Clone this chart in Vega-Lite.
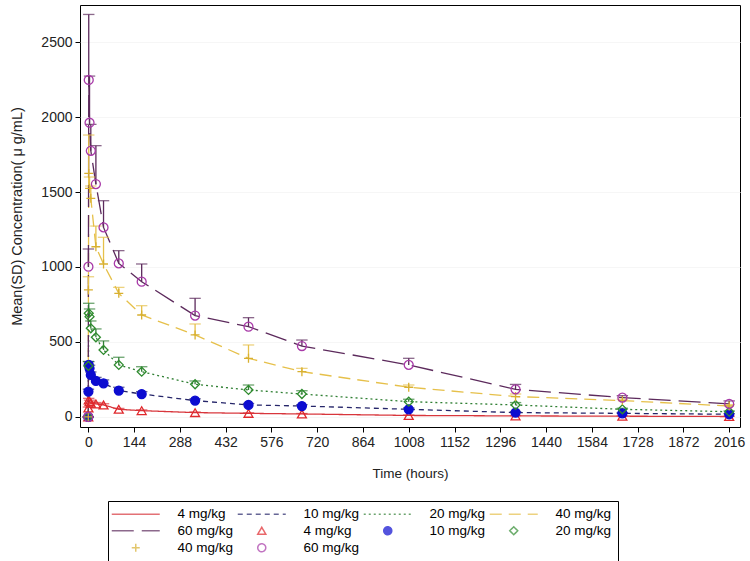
{
  "$schema": "https://vega.github.io/schema/vega-lite/v6.json",
  "width": 660,
  "height": 422,
  "autosize": {"type": "none"},
  "padding": {"left": 80, "top": 5, "right": 10, "bottom": 134},
  "background": "white",
  "config": {
    "view": {"stroke": "black", "strokeWidth": 1},
    "font": "Liberation Sans",
    "axis": {
      "domain": false,
      "tickColor": "black",
      "tickSize": 5,
      "labelFont": "Liberation Sans",
      "labelFontSize": 14,
      "labelColor": "#222",
      "titleFont": "Liberation Sans",
      "titleFontWeight": "normal",
      "titleColor": "#222"
    },
    "legend": {
      "orient": "none",
      "legendX": 28,
      "legendY": 496,
      "columns": 4,
      "direction": "horizontal",
      "gridAlign": "each",
      "strokeColor": "black",
      "fillColor": "white",
      "padding": 6,
      "titleOrient": "left",
      "titlePadding": 15,
      "titleFontSize": 13.5,
      "labelFont": "Liberation Sans",
      "labelFontSize": 13.5,
      "labelColor": "#000",
      "labelLimit": 400,
      "symbolSize": 64,
      "symbolStrokeWidth": 1.5,
      "labelOffset": 35,
      "columnPadding": 0,
      "rowPadding": 2
    }
  },
  "data": {
    "values": [
      {"dose":"4 mg/kg","line":"L4 mg/kg","marker":"P4 mg/kg","time":0,"mean":0,"upper":0},
      {"dose":"4 mg/kg","line":"L4 mg/kg","marker":"P4 mg/kg","time":0.5,"mean":60,"upper":66},
      {"dose":"4 mg/kg","line":"L4 mg/kg","marker":"P4 mg/kg","time":1.5,"mean":113,"upper":124},
      {"dose":"4 mg/kg","line":"L4 mg/kg","marker":"P4 mg/kg","time":4,"mean":102,"upper":112},
      {"dose":"4 mg/kg","line":"L4 mg/kg","marker":"P4 mg/kg","time":8,"mean":92,"upper":100},
      {"dose":"4 mg/kg","line":"L4 mg/kg","marker":"P4 mg/kg","time":24,"mean":87,"upper":96},
      {"dose":"4 mg/kg","line":"L4 mg/kg","marker":"P4 mg/kg","time":48,"mean":80,"upper":88},
      {"dose":"4 mg/kg","line":"L4 mg/kg","marker":"P4 mg/kg","time":96,"mean":51,"upper":57},
      {"dose":"4 mg/kg","line":"L4 mg/kg","marker":"P4 mg/kg","time":168,"mean":42,"upper":47},
      {"dose":"4 mg/kg","line":"L4 mg/kg","marker":"P4 mg/kg","time":336,"mean":29,"upper":33},
      {"dose":"4 mg/kg","line":"L4 mg/kg","marker":"P4 mg/kg","time":504,"mean":24,"upper":28},
      {"dose":"4 mg/kg","line":"L4 mg/kg","marker":"P4 mg/kg","time":672,"mean":20,"upper":23},
      {"dose":"4 mg/kg","line":"L4 mg/kg","marker":"P4 mg/kg","time":1008,"mean":10,"upper":13},
      {"dose":"4 mg/kg","line":"L4 mg/kg","marker":"P4 mg/kg","time":1344,"mean":7,"upper":9},
      {"dose":"4 mg/kg","line":"L4 mg/kg","marker":"P4 mg/kg","time":1680,"mean":5,"upper":7},
      {"dose":"4 mg/kg","line":"L4 mg/kg","marker":"P4 mg/kg","time":2016,"mean":3,"upper":5},

      {"dose":"10 mg/kg","line":"L10 mg/kg","marker":"P10 mg/kg","time":0,"mean":0,"upper":0},
      {"dose":"10 mg/kg","line":"L10 mg/kg","marker":"P10 mg/kg","time":0.5,"mean":169,"upper":185},
      {"dose":"10 mg/kg","line":"L10 mg/kg","marker":"P10 mg/kg","time":1.5,"mean":347,"upper":369},
      {"dose":"10 mg/kg","line":"L10 mg/kg","marker":"P10 mg/kg","time":4,"mean":324,"upper":345},
      {"dose":"10 mg/kg","line":"L10 mg/kg","marker":"P10 mg/kg","time":8,"mean":280,"upper":300},
      {"dose":"10 mg/kg","line":"L10 mg/kg","marker":"P10 mg/kg","time":24,"mean":240,"upper":264},
      {"dose":"10 mg/kg","line":"L10 mg/kg","marker":"P10 mg/kg","time":48,"mean":224,"upper":247},
      {"dose":"10 mg/kg","line":"L10 mg/kg","marker":"P10 mg/kg","time":96,"mean":176,"upper":198},
      {"dose":"10 mg/kg","line":"L10 mg/kg","marker":"P10 mg/kg","time":168,"mean":153,"upper":169},
      {"dose":"10 mg/kg","line":"L10 mg/kg","marker":"P10 mg/kg","time":336,"mean":109,"upper":121},
      {"dose":"10 mg/kg","line":"L10 mg/kg","marker":"P10 mg/kg","time":504,"mean":80,"upper":90},
      {"dose":"10 mg/kg","line":"L10 mg/kg","marker":"P10 mg/kg","time":672,"mean":73,"upper":82},
      {"dose":"10 mg/kg","line":"L10 mg/kg","marker":"P10 mg/kg","time":1008,"mean":51,"upper":60},
      {"dose":"10 mg/kg","line":"L10 mg/kg","marker":"P10 mg/kg","time":1344,"mean":29,"upper":36},
      {"dose":"10 mg/kg","line":"L10 mg/kg","marker":"P10 mg/kg","time":1680,"mean":24,"upper":29},
      {"dose":"10 mg/kg","line":"L10 mg/kg","marker":"P10 mg/kg","time":2016,"mean":18,"upper":22},

      {"dose":"20 mg/kg","line":"L20 mg/kg","marker":"P20 mg/kg","time":0,"mean":0,"upper":0},
      {"dose":"20 mg/kg","line":"L20 mg/kg","marker":"P20 mg/kg","time":0.5,"mean":340,"upper":370},
      {"dose":"20 mg/kg","line":"L20 mg/kg","marker":"P20 mg/kg","time":1.5,"mean":691,"upper":758},
      {"dose":"20 mg/kg","line":"L20 mg/kg","marker":"P20 mg/kg","time":4,"mean":669,"upper":720},
      {"dose":"20 mg/kg","line":"L20 mg/kg","marker":"P20 mg/kg","time":8,"mean":591,"upper":640},
      {"dose":"20 mg/kg","line":"L20 mg/kg","marker":"P20 mg/kg","time":24,"mean":531,"upper":587},
      {"dose":"20 mg/kg","line":"L20 mg/kg","marker":"P20 mg/kg","time":48,"mean":447,"upper":507},
      {"dose":"20 mg/kg","line":"L20 mg/kg","marker":"P20 mg/kg","time":96,"mean":347,"upper":398},
      {"dose":"20 mg/kg","line":"L20 mg/kg","marker":"P20 mg/kg","time":168,"mean":302,"upper":335},
      {"dose":"20 mg/kg","line":"L20 mg/kg","marker":"P20 mg/kg","time":336,"mean":218,"upper":240},
      {"dose":"20 mg/kg","line":"L20 mg/kg","marker":"P20 mg/kg","time":504,"mean":180,"upper":213},
      {"dose":"20 mg/kg","line":"L20 mg/kg","marker":"P20 mg/kg","time":672,"mean":153,"upper":175},
      {"dose":"20 mg/kg","line":"L20 mg/kg","marker":"P20 mg/kg","time":1008,"mean":102,"upper":118},
      {"dose":"20 mg/kg","line":"L20 mg/kg","marker":"P20 mg/kg","time":1344,"mean":80,"upper":96},
      {"dose":"20 mg/kg","line":"L20 mg/kg","marker":"P20 mg/kg","time":1680,"mean":51,"upper":58},
      {"dose":"20 mg/kg","line":"L20 mg/kg","marker":"P20 mg/kg","time":2016,"mean":35,"upper":40},

      {"dose":"40 mg/kg","line":"L40 mg/kg","marker":"P40 mg/kg","time":0,"mean":0,"upper":0},
      {"dose":"40 mg/kg","line":"L40 mg/kg","marker":"P40 mg/kg","time":0.5,"mean":847,"upper":935},
      {"dose":"40 mg/kg","line":"L40 mg/kg","marker":"P40 mg/kg","time":1.5,"mean":1624,"upper":1880},
      {"dose":"40 mg/kg","line":"L40 mg/kg","marker":"P40 mg/kg","time":4,"mean":1524,"upper":1600},
      {"dose":"40 mg/kg","line":"L40 mg/kg","marker":"P40 mg/kg","time":8,"mean":1458,"upper":1540},
      {"dose":"40 mg/kg","line":"L40 mg/kg","marker":"P40 mg/kg","time":24,"mean":1135,"upper":1273},
      {"dose":"40 mg/kg","line":"L40 mg/kg","marker":"P40 mg/kg","time":48,"mean":1020,"upper":1198},
      {"dose":"40 mg/kg","line":"L40 mg/kg","marker":"P40 mg/kg","time":96,"mean":824,"upper":864},
      {"dose":"40 mg/kg","line":"L40 mg/kg","marker":"P40 mg/kg","time":168,"mean":680,"upper":742},
      {"dose":"40 mg/kg","line":"L40 mg/kg","marker":"P40 mg/kg","time":336,"mean":547,"upper":620},
      {"dose":"40 mg/kg","line":"L40 mg/kg","marker":"P40 mg/kg","time":504,"mean":391,"upper":480},
      {"dose":"40 mg/kg","line":"L40 mg/kg","marker":"P40 mg/kg","time":672,"mean":302,"upper":324},
      {"dose":"40 mg/kg","line":"L40 mg/kg","marker":"P40 mg/kg","time":1008,"mean":198,"upper":213},
      {"dose":"40 mg/kg","line":"L40 mg/kg","marker":"P40 mg/kg","time":1344,"mean":136,"upper":153},
      {"dose":"40 mg/kg","line":"L40 mg/kg","marker":"P40 mg/kg","time":1680,"mean":109,"upper":118},
      {"dose":"40 mg/kg","line":"L40 mg/kg","marker":"P40 mg/kg","time":2016,"mean":73,"upper":82},

      {"dose":"60 mg/kg","line":"L60 mg/kg","marker":"P60 mg/kg","time":0,"mean":0,"upper":0},
      {"dose":"60 mg/kg","line":"L60 mg/kg","marker":"P60 mg/kg","time":0.5,"mean":1002,"upper":1120},
      {"dose":"60 mg/kg","line":"L60 mg/kg","marker":"P60 mg/kg","time":1.5,"mean":2247,"upper":2684},
      {"dose":"60 mg/kg","line":"L60 mg/kg","marker":"P60 mg/kg","time":4,"mean":1962,"upper":2273},
      {"dose":"60 mg/kg","line":"L60 mg/kg","marker":"P60 mg/kg","time":8,"mean":1775,"upper":1951},
      {"dose":"60 mg/kg","line":"L60 mg/kg","marker":"P60 mg/kg","time":24,"mean":1553,"upper":1809},
      {"dose":"60 mg/kg","line":"L60 mg/kg","marker":"P60 mg/kg","time":48,"mean":1264,"upper":1442},
      {"dose":"60 mg/kg","line":"L60 mg/kg","marker":"P60 mg/kg","time":96,"mean":1024,"upper":1109},
      {"dose":"60 mg/kg","line":"L60 mg/kg","marker":"P60 mg/kg","time":168,"mean":902,"upper":1020},
      {"dose":"60 mg/kg","line":"L60 mg/kg","marker":"P60 mg/kg","time":336,"mean":676,"upper":791},
      {"dose":"60 mg/kg","line":"L60 mg/kg","marker":"P60 mg/kg","time":504,"mean":602,"upper":662},
      {"dose":"60 mg/kg","line":"L60 mg/kg","marker":"P60 mg/kg","time":672,"mean":473,"upper":513},
      {"dose":"60 mg/kg","line":"L60 mg/kg","marker":"P60 mg/kg","time":1008,"mean":347,"upper":391},
      {"dose":"60 mg/kg","line":"L60 mg/kg","marker":"P60 mg/kg","time":1344,"mean":184,"upper":217},
      {"dose":"60 mg/kg","line":"L60 mg/kg","marker":"P60 mg/kg","time":1680,"mean":129,"upper":142},
      {"dose":"60 mg/kg","line":"L60 mg/kg","marker":"P60 mg/kg","time":2016,"mean":87,"upper":107}
    ]
  },
  "layer": [
    {
      "mark": {"type": "line", "strokeWidth": 1.3},
      "encoding": {
        "x": {"field": "time", "type": "quantitative",
          "scale": {"domain": [-26, 2050], "nice": false, "zero": false},
          "axis": {"values": [0,144,288,432,576,720,864,1008,1152,1296,1440,1584,1728,1872,2016], "format": "d", "grid": false, "title": "Time (hours)", "titleFontSize": 13.5, "labelPadding": 3, "titlePadding": 17}},
        "y": {"field": "mean", "type": "quantitative",
          "scale": {"domain": [-67, 2747], "nice": false, "zero": false},
          "axis": {"values": [0,500,1000,1500,2000,2500], "format": "d", "grid": true, "gridColor": "#f6f6f6", "title": "Mean(SD) Concentration( μ g/mL)", "titleFontSize": 14.5, "labelPadding": 3, "titlePadding": 16}},
        "stroke": {"field": "line", "type": "nominal",
          "scale": {
            "domain": ["L4 mg/kg","L10 mg/kg","L20 mg/kg","L40 mg/kg","L60 mg/kg","P4 mg/kg","P10 mg/kg","P20 mg/kg","P40 mg/kg","P60 mg/kg"],
            "range": ["#d8363c","#26266a","#2f7f33","#e6c04a","#5c2a5c","#e0282c","#0c0cd0","#2e8b2e","#d8b030","#a83aa8"]
          },
          "legend": {"title": " ", "labelExpr": "(datum.value == 'L40 mg/kg' || datum.value == 'P20 mg/kg') ? slice(datum.label, 1) + '\u2003\u2003\u2003\u2003\u2003\u2003\u2003' : slice(datum.label, 1)"}},
        "strokeDash": {"field": "line", "type": "nominal",
          "scale": {
            "domain": ["L4 mg/kg","L10 mg/kg","L20 mg/kg","L40 mg/kg","L60 mg/kg","P4 mg/kg","P10 mg/kg","P20 mg/kg","P40 mg/kg","P60 mg/kg"],
            "range": [[1,0],[5,4],[2,3],[12,7],[22,8],[1,0],[1,0],[1,0],[1,0],[1,0]]
          },
          "legend": {"title": " ", "labelExpr": "(datum.value == 'L40 mg/kg' || datum.value == 'P20 mg/kg') ? slice(datum.label, 1) + '\u2003\u2003\u2003\u2003\u2003\u2003\u2003' : slice(datum.label, 1)"}}
      }
    },
    {
      "mark": {"type": "rule", "strokeWidth": 1.3},
      "encoding": {
        "x": {"field": "time", "type": "quantitative"},
        "y": {"field": "mean", "type": "quantitative"},
        "y2": {"field": "upper"},
        "stroke": {"field": "line", "type": "nominal"}
      }
    },
    {
      "mark": {"type": "point", "shape": "stroke", "size": 130, "strokeWidth": 1.3, "filled": false},
      "encoding": {
        "x": {"field": "time", "type": "quantitative"},
        "y": {"field": "upper", "type": "quantitative"},
        "stroke": {"field": "line", "type": "nominal"}
      }
    },
    {
      "mark": {"type": "point", "size": 80, "strokeWidth": 1.3, "opacity": 1, "fillOpacity": 1, "strokeOpacity": 1},
      "encoding": {
        "x": {"field": "time", "type": "quantitative"},
        "y": {"field": "mean", "type": "quantitative"},
        "stroke": {"field": "marker", "type": "nominal"},
        "fill": {"field": "marker", "type": "nominal",
          "scale": {
            "domain": ["L4 mg/kg","L10 mg/kg","L20 mg/kg","L40 mg/kg","L60 mg/kg","P4 mg/kg","P10 mg/kg","P20 mg/kg","P40 mg/kg","P60 mg/kg"],
            "range": ["transparent","transparent","transparent","transparent","transparent","transparent","#0c0cd0","transparent","transparent","transparent"]
          },
          "legend": {"title": " ", "labelExpr": "(datum.value == 'L40 mg/kg' || datum.value == 'P20 mg/kg') ? slice(datum.label, 1) + '\u2003\u2003\u2003\u2003\u2003\u2003\u2003' : slice(datum.label, 1)"}},
        "shape": {"field": "marker", "type": "nominal",
          "scale": {
            "domain": ["L4 mg/kg","L10 mg/kg","L20 mg/kg","L40 mg/kg","L60 mg/kg","P4 mg/kg","P10 mg/kg","P20 mg/kg","P40 mg/kg","P60 mg/kg"],
            "range": ["M-6,0H6","M-6,0H6","M-6,0H6","M-6,0H6","M-6,0H6","triangle-up","circle","diamond","M-1,0H1M0,-1V1","circle"]
          },
          "legend": {"title": " ", "labelExpr": "(datum.value == 'L40 mg/kg' || datum.value == 'P20 mg/kg') ? slice(datum.label, 1) + '\u2003\u2003\u2003\u2003\u2003\u2003\u2003' : slice(datum.label, 1)"}}
      }
    }
  ]
}
